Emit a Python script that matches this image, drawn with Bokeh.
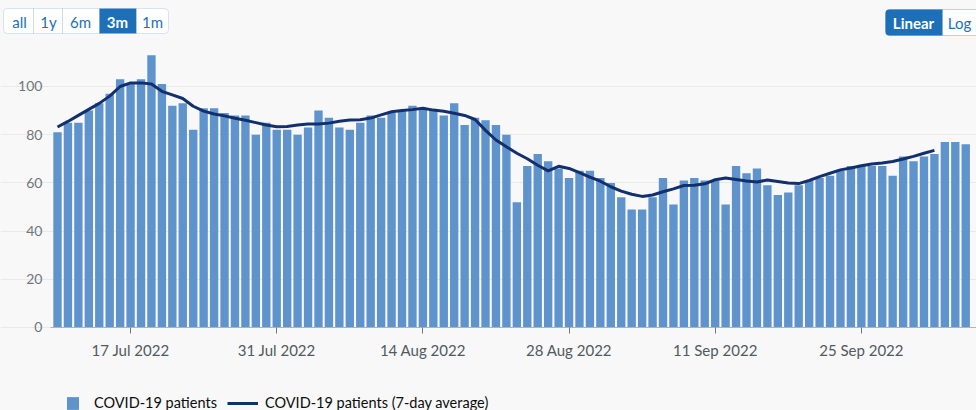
import pandas as pd
from bokeh.plotting import figure
from bokeh.models import (ColumnDataSource, FixedTicker, Legend, LegendItem,
                          BoxAnnotation, Label, Range1d, GlobalInlineStyleSheet)
from bokeh.embed import file_html
from bokeh.resources import INLINE

# ---------------- data ----------------
start_date = "2022-07-10"
patients = [81, 85, 85, 90, 93, 97, 103, 101, 103, 113,
            101, 92, 93, 82, 91, 91, 89, 88, 88, 80,
            85, 82, 82, 80, 83, 90, 87, 83, 82, 85,
            88, 87, 89, 90, 92, 91, 90, 88, 93, 84,
            87, 86, 84, 80, 52, 67, 72, 69, 66, 62,
            65, 65, 62, 60, 54, 49, 49, 54, 62, 51,
            61, 62, 61, 61, 51, 67, 64, 66, 59, 55,
            56, 59, 61, 62, 63, 65, 67, 67, 67, 67,
            63, 71, 69, 71, 72, 77, 77, 76]
avg7 = [83.2, 85.5, 88, 90.5, 93, 96, 100, 101.5, 101.5, 101,
        98, 96.5, 95, 91.8, 89.8, 88.6, 87.8, 86.8, 86, 85,
        84, 83.3, 83.4, 84, 84.4, 84.4, 84.8, 85.6, 86.1, 86.2,
        86.9, 88.2, 89.5, 90, 90.4, 91, 90.2, 89.7, 88.9, 88,
        86.3, 81.8, 77.8, 75, 72.3, 70, 67.3, 65, 66.9, 66,
        64.3, 62.4, 60.7, 58.4, 56.6, 55.3, 54.4, 55, 56.3, 57.5,
        58.9, 59, 59.6, 61.3, 62, 61.4, 60.8, 60.4, 61.2, 60.6,
        60, 59.7, 61, 62.6, 64, 65.4, 66.2, 67.1, 67.8, 68.3,
        68.9, 69.9, 71, 72.3, 73.5]
tick_dates = ["2022-07-17", "2022-07-31", "2022-08-14",
              "2022-08-28", "2022-09-11", "2022-09-25"]
tick_labels = ["17 Jul 2022", "31 Jul 2022", "14 Aug 2022",
               "28 Aug 2022", "11 Sep 2022", "25 Sep 2022"]
y_ticks = [0, 20, 40, 60, 80, 100]
range_buttons = ["all", "1y", "6m", "3m", "1m"]
scale_buttons = ["Linear", "Log"]
series_names = ["COVID-19 patients", "COVID-19 patients (7-day average)"]

# ---------------- styling / layout ----------------
BAR = "#5f93cc"
LINE = "#13306e"
BLUE = "#1d70b8"
BG = "#f8f8f8"
FONT = "Lato"
W, H = 976, 410
DAY_MS = 86400000.0


def ms(ts):
    return pd.Timestamp(ts).value / 1e6


dates = pd.date_range(start_date, periods=len(patients), freq="D")
first_ms = ms(dates[0])
last_ms = ms(dates[-1])
x_start = first_ms - 5.46 * DAY_MS
x_end = last_ms + 1.03 * DAY_MS
axis_x = first_ms - 0.68 * DAY_MS

bars = ColumnDataSource(dict(date=dates, value=patients))
avg = ColumnDataSource(dict(date=dates[:len(avg7)], value=avg7))

p = figure(width=W, height=H, x_axis_type="datetime",
           output_backend="svg", toolbar_location=None,
           x_range=Range1d(x_start, x_end),
           y_range=Range1d(-34.44, 135.68),
           min_border=0, min_border_left=0, min_border_right=0,
           min_border_top=0, min_border_bottom=0,
           background_fill_color=BG, border_fill_color=BG,
           outline_line_color=None)
p.stylesheets = [GlobalInlineStyleSheet(css="html, body { background-color: %s; }" % BG)]

vb = p.vbar(x="date", top="value", source=bars, width=0.8 * DAY_MS,
            fill_color=BAR, line_color=None)
ln = p.line(x="date", y="value", source=avg, line_color=LINE, line_width=3)

# x axis, drawn at y = 0
tick_ms = [int(ms(d)) for d in tick_dates]
xa = p.xaxis[0]
xa.fixed_location = 0
xa.bounds = (axis_x, x_end)
xa.ticker = FixedTicker(ticks=tick_ms)
xa.major_label_overrides = {t: l for t, l in zip(tick_ms, tick_labels)}
xa.axis_line_color = "#b1b4b6"
xa.major_tick_line_color = "#6f777b"
xa.major_tick_out = 6
xa.major_tick_in = 0
xa.minor_tick_line_color = None
xa.major_label_standoff = 8
xa.major_label_text_font = FONT
xa.major_label_text_font_size = "15px"
xa.major_label_text_color = "#505a5f"

# y axis, drawn at the left edge of the bars
ya = p.yaxis[0]
ya.fixed_location = axis_x
ya.bounds = (0, 100)
ya.ticker = FixedTicker(ticks=y_ticks)
ya.axis_line_color = None
ya.major_tick_line_color = None
ya.minor_tick_line_color = None
ya.major_tick_out = 0
ya.major_tick_in = 0
ya.major_label_standoff = 8
ya.major_label_text_font = FONT
ya.major_label_text_font_size = "14px"
ya.major_label_text_color = "#6f777b"

p.xgrid.grid_line_color = None
p.ygrid.grid_line_color = "#e9e9e9"
p.ygrid.ticker = FixedTicker(ticks=y_ticks)

# legends (one per series so each keeps its own key shape)
common = dict(orientation="horizontal", glyph_height=16, label_height=16,
              padding=0, margin=0, background_fill_alpha=0, border_line_color=None,
              label_text_font=FONT, label_text_font_size="14.5px",
              label_text_color="#0b0c0c")
leg_bar = Legend(items=[LegendItem(label=series_names[0], renderers=[vb])],
                 location=(65, -1), glyph_width=15, label_standoff=14, **common)
leg_line = Legend(items=[LegendItem(label=series_names[1], renderers=[ln])],
                  location=(227, -1), glyph_width=31, label_standoff=7, **common)
p.add_layout(leg_bar, "center")
p.add_layout(leg_line, "center")


# buttons (screen units: from the frame's bottom-left, y upwards)
def button(left, right, bottom, top, text, tx, ty, active, border, radius):
    p.add_layout(BoxAnnotation(left=left, right=right, top=top, bottom=bottom,
                               left_units="screen", right_units="screen",
                               top_units="screen", bottom_units="screen",
                               fill_color=BLUE if active else "white", fill_alpha=1,
                               line_color=border, line_width=1, level="overlay",
                               border_radius=radius))
    p.add_layout(Label(x=tx, y=ty, x_units="screen", y_units="screen",
                       text=text, text_align="center", text_baseline="middle",
                       text_font=FONT, text_font_size="15px",
                       text_font_style="bold" if active else "normal",
                       text_color="white" if active else BLUE, level="overlay"))


range_edges = [3, 33, 62, 99, 136, 168]
range_text_x = [19, 48, 80, 117, 152]
for i, lab in enumerate(range_buttons):
    rad = (4, 0, 0, 4) if i == 0 else ((0, 4, 4, 0) if i == len(range_buttons) - 1 else 0)
    button(range_edges[i], range_edges[i + 1], H - 33, H - 8, lab,
           range_text_x[i], H - 21, i == 3, "#7fa9d4", rad)

scale_edges = [885, 942, 990]
scale_text_x = [913, 959]
for i, lab in enumerate(scale_buttons):
    rad = (4, 0, 0, 4) if i == 0 else (0, 4, 4, 0)
    button(scale_edges[i], scale_edges[i + 1], H - 35, H - 9, lab,
           scale_text_x[i], H - 22, i == 0, BLUE, rad)

open("out.html", "w").write(file_html(p, INLINE))
